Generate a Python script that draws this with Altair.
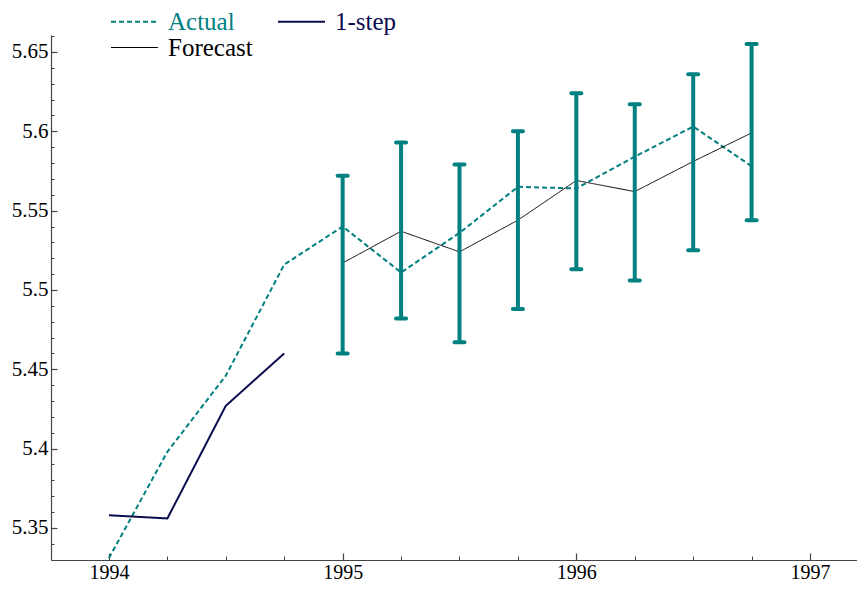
import altair as alt
import pandas as pd

# ---- data ----
actual_x = [1994.0, 1994.25, 1994.5, 1994.75, 1995.0, 1995.25, 1995.5, 1995.75, 1996.0, 1996.25, 1996.5, 1996.75]
actual_y = [5.331, 5.398, 5.446, 5.516, 5.540, 5.511, 5.536, 5.565, 5.564, 5.584, 5.603, 5.578]

step_x = [1994.0, 1994.25, 1994.5, 1994.75]
step_y = [5.358, 5.356, 5.427, 5.460]

fc_x = [1995.0, 1995.25, 1995.5, 1995.75, 1996.0, 1996.25, 1996.5, 1996.75]
fc_y = [5.517, 5.537, 5.524, 5.544, 5.569, 5.562, 5.581, 5.599]
err_lo = [5.460, 5.482, 5.467, 5.488, 5.513, 5.506, 5.525, 5.544]
err_hi = [5.572, 5.593, 5.579, 5.600, 5.624, 5.617, 5.636, 5.655]

series_names = ["Actual", "1-step", "Forecast"]
series_colors = ["#008080", "#0b0b4f", "#000000"]

x_major = [1994, 1995, 1996, 1997]
x_minor = [1994 + 0.25 * i for i in range(13)]
y_major = [5.35, 5.40, 5.45, 5.50, 5.55, 5.60, 5.65]
y_minor = [round(5.34 + 0.01 * i, 2) for i in range(33)]

X_DOM = [1993.752, 1997.201]
Y_DOM = [5.3298, 5.6607]

lines = pd.concat([
    pd.DataFrame({"t": actual_x, "v": actual_y, "series": "Actual"}),
    pd.DataFrame({"t": step_x, "v": step_y, "series": "1-step"}),
    pd.DataFrame({"t": fc_x, "v": fc_y, "series": "Forecast"}),
], ignore_index=True)
bars = pd.DataFrame({"t": fc_x, "lo": err_lo, "hi": err_hi})

FONT = "Liberation Serif"
AX = "#444444"

xs = alt.Scale(domain=X_DOM, nice=False, zero=False)
ys = alt.Scale(domain=Y_DOM, nice=False, zero=False)

label_color_expr = ("datum.label == 'Actual' ? '#008080' : "
                    "(datum.label == '1-step' ? '#0b0b4f' : '#000000')")

legend = alt.Legend(
    title=None, orient="none", legendX=71, legendY=-26, direction="horizontal",
    columns=2, columnPadding=21, rowPadding=0, padding=0,
    symbolType="M-3,0H3", symbolSize=245,
    symbolStrokeWidth={"expr": "datum.label == 'Forecast' ? 1 : 2"},
    labelFont=FONT, labelFontSize=25, labelOffset=21, labelLimit=300,
    labelColor={"expr": label_color_expr},
)

line_layer = alt.Chart(lines).mark_line(clip=True).encode(
    x=alt.X("t:Q", scale=xs, axis=alt.Axis(
        orient="bottom", values=x_major, format="d", title=None, grid=False, ticks=False, tickSize=0,
        domain=True, domainColor=AX, domainWidth=1.2,
        labelFont=FONT, labelFontSize=20, labelColor="black", labelPadding=2)),
    y=alt.Y("v:Q", scale=ys, axis=alt.Axis(
        orient="left", values=y_major, format="~g", title=None, grid=False, ticks=False, tickSize=0,
        domain=True, domainColor=AX, domainWidth=1.2,
        labelFont=FONT, labelFontSize=21, labelColor="black", labelPadding=3)),
    color=alt.Color("series:N", scale=alt.Scale(domain=series_names, range=series_colors), legend=legend),
    strokeDash=alt.StrokeDash("series:N", scale=alt.Scale(domain=series_names, range=[[5, 3], [1, 0], [1, 0]]), legend=legend),
    strokeWidth=alt.condition(alt.datum.series == "Forecast", alt.value(1), alt.value(2)),
    detail="series:N",
)

rule_layer = alt.Chart(bars).mark_rule(color="#008080", strokeWidth=4).encode(
    x=alt.X("t:Q", scale=xs, axis=alt.Axis(
        orient="bottom", values=x_major, labels=False, domain=False, grid=False, title=None,
        ticks=True, tickSize=7, offset=-7, tickColor=AX, tickWidth=1.2)),
    y=alt.Y("lo:Q", scale=ys, axis=alt.Axis(
        orient="left", values=y_major, labels=False, domain=False, grid=False, title=None,
        ticks=True, tickSize=6, offset=-6, tickColor=AX, tickWidth=1.2)),
    y2="hi:Q",
)

cap_data = pd.concat([
    pd.DataFrame({"t": fc_x, "c": err_lo}),
    pd.DataFrame({"t": fc_x, "c": err_hi}),
], ignore_index=True)

cap_layer = alt.Chart(cap_data).mark_tick(
    color="#008080", orient="horizontal", size=14, thickness=4, cornerRadius=2, opacity=1
).encode(
    x=alt.X("t:Q", scale=xs, axis=alt.Axis(
        orient="bottom", values=x_minor, labels=False, domain=False, grid=False, title=None,
        ticks=True, tickSize=4, offset=-4, tickColor=AX, tickWidth=1)),
    y=alt.Y("c:Q", scale=ys, axis=alt.Axis(
        orient="left", values=y_minor, labels=False, domain=False, grid=False, title=None,
        ticks=True, tickSize=3, offset=-3, tickColor=AX, tickWidth=1)),
)

chart = alt.layer(line_layer, rule_layer, cap_layer).resolve_scale(
    x="shared", y="shared"
).resolve_axis(
    x="independent", y="independent"
).properties(
    width=806, height=525,
    autosize=alt.AutoSizeParams(type="none"),
    padding={"left": 43, "top": 27, "right": 0, "bottom": 22},
).configure_view(stroke=None)

chart.save("out.html", embed_options={"renderer": "svg", "actions": False})
